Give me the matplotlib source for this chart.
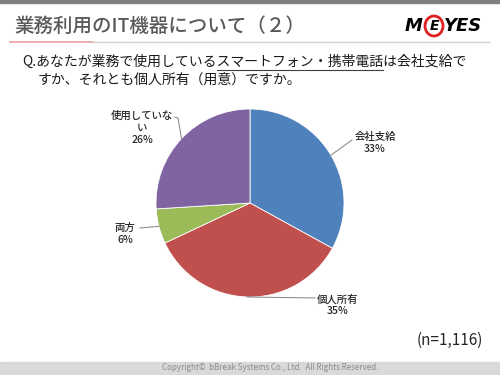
import numpy as np
import matplotlib
matplotlib.use("Agg")
import matplotlib.pyplot as plt
from matplotlib.patches import Rectangle, Ellipse

plt.rcParams['font.family'] = ['Noto Sans CJK JP', 'DejaVu Sans']

# data
categories = ["会社支給", "個人所有", "両方", "使用していない"]
label_text = ["会社支給", "個人所有", "両方", "使用していな\nい"]
values = [33, 35, 6, 26]
colors = ["#4F81BD", "#C0504D", "#9BBB59", "#8064A2"]
title = "業務利用のIT機器について（２）"
q_pre = "Q.あなたが業務で使用している"
q_under = "スマートフォン・携帯電話"
q_post = "は会社支給で"
q_line2 = "すか、それとも個人所有（用意）ですか。"
n_note = "(n=1,116)"
copyright_txt = "Copyright©  bBreak Systems Co., Ltd.  All Rights Reserved."

W, H = 500, 375
fig = plt.figure(figsize=(5, 3.75), dpi=100)
fig.patch.set_facecolor("white")

def fx(px):
    return px / W

def fy(py):
    return 1 - py / H

# top bar and footer band
fig.patches.append(Rectangle((0, fy(3)), 1, 3 / H, transform=fig.transFigure,
                             color="#7f7f7f", zorder=0))
fig.patches.append(Rectangle((0, 0), 1, 13 / H, transform=fig.transFigure,
                             color="#d9d9d9", zorder=0))

# title + underline
fig.text(fx(14), fy(26), title, fontsize=14, color="#595959", va="center", ha="left",
         fontweight="medium")
fig.add_artist(plt.Line2D([fx(10), fx(93)], [fy(42), fy(42)], color="#e8a0a0", lw=1.2))
fig.add_artist(plt.Line2D([fx(93), fx(489)], [fy(42), fy(42)], color="#d0d0d0", lw=1.0))

# logo
fig.text(fx(405), fy(26), "M", fontsize=13, fontweight="bold", style="italic",
         color="black", va="center", ha="left", family="DejaVu Sans")
fig.text(fx(444), fy(26), "YES", fontsize=13, fontweight="bold", style="italic",
         color="black", va="center", ha="left", family="DejaVu Sans")
fig.text(fx(434), fy(26), "E", fontsize=10, fontweight="bold", style="italic",
         color="black", va="center", ha="center", family="DejaVu Sans")
fig.add_artist(Ellipse((fx(434), fy(26)), 18 / W, 20 / H, transform=fig.transFigure,
                       fill=False, ec="#e02020", lw=2.0))

# question text
qfs = 10
fig.text(fx(22), fy(62), q_pre + q_under + q_post, fontsize=qfs, color="#1a1a1a",
         va="center", ha="left")
fig.text(fx(38), fy(80), q_line2, fontsize=qfs, color="#1a1a1a", va="center", ha="left")

# underline under the phone part, measured from text extents
fig.canvas.draw()
r = fig.canvas.get_renderer()
tmp = fig.text(fx(22), fy(62), q_pre, fontsize=qfs, va="center", ha="left")
x0 = tmp.get_window_extent(r).x1
tmp.set_text(q_pre + q_under)
x1 = tmp.get_window_extent(r).x1
tmp.remove()
fig.add_artist(plt.Line2D([x0 / fig.bbox.width, x1 / fig.bbox.width], [fy(70), fy(70)],
                          color="#404040", lw=0.8))

# pie
cx, cy, rad = 250, 203, 94
ax = fig.add_axes([fx(cx - rad), fy(cy + rad), 2 * rad / W, 2 * rad / H])
wedges, _ = ax.pie(values, colors=colors, startangle=90, counterclock=False,
                   radius=1, wedgeprops=dict(edgecolor="white", linewidth=0.6))
ax.set_xlim(-1, 1)
ax.set_ylim(-1, 1)
ax.set_aspect("auto")
ax.axis("off")

# labels with leader lines (label anchor offsets in pixels)
label_pos = [(375, 143), (338, 305), (125, 234), (142, 128)]
elbows = [[(352, 140)], [(315, 298)], [(140, 228)], [(178, 118), (175, 117)]]
for w, v, lt, (lx, ly), elb in zip(wedges, values, label_text, label_pos, elbows):
    ang = np.deg2rad((w.theta1 + w.theta2) / 2)
    ex = cx + rad * np.cos(ang)
    ey = cy - rad * np.sin(ang)
    xs = [ex] + [p[0] for p in elb]
    ys = [ey] + [p[1] for p in elb]
    fig.add_artist(plt.Line2D([fx(x) for x in xs], [fy(y) for y in ys],
                              color="#808080", lw=0.7))
    fig.text(fx(lx), fy(ly), f"{lt}\n{v}%", fontsize=7.5, color="#262626",
             ha="center", va="center", linespacing=1.25, fontweight="medium")

# n note
fig.text(fx(483), fy(340), n_note, fontsize=11, color="#262626", ha="right", va="center")

# copyright
fig.text(fx(270), fy(368), copyright_txt, fontsize=5.8, color="#8c8c8c",
         ha="center", va="center")

fig.savefig("out.png", dpi=100, facecolor="white")
